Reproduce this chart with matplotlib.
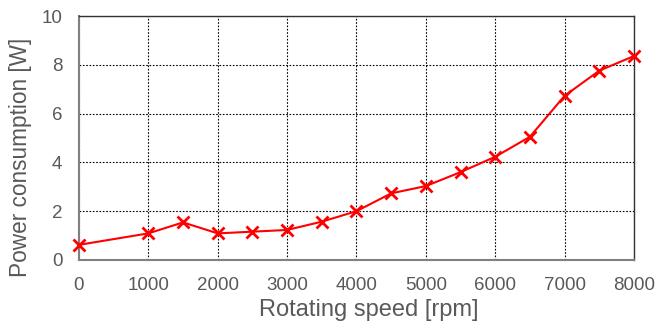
import matplotlib
matplotlib.use("Agg")
import matplotlib.pyplot as plt

speed = [0, 1000, 1500, 2000, 2500, 3000, 3500, 4000, 4500, 5000, 5500, 6000, 6500, 7000, 7500, 8000]
power = [0.62, 1.09, 1.54, 1.09, 1.16, 1.23, 1.57, 2.0, 2.73, 3.03, 3.6, 4.23, 5.05, 6.73, 7.76, 8.36]
xticks = [0, 1000, 2000, 3000, 4000, 5000, 6000, 7000, 8000]
yticks = [0, 2, 4, 6, 8, 10]

plt.rcParams['font.family'] = ['Liberation Sans', 'DejaVu Sans']
fig = plt.figure(figsize=(6.58, 3.27), dpi=100)
ax = fig.add_axes([0.120, 0.205, 0.8435, 0.746])
ax.plot(speed, power, color='#ff0000', marker='x', markersize=8, markeredgewidth=2, linewidth=1.5, zorder=3, clip_on=False)
ax.set_xlim(0, 8000)
ax.set_ylim(0, 10)
ax.set_xticks(xticks)
ax.set_yticks(yticks)
ax.grid(True, color='black', linestyle=(0, (1.5, 1.5)), linewidth=0.8)
grey = '#595959'
ax.tick_params(axis='x', length=0, labelsize=13.5, colors=grey, pad=12)
ax.tick_params(axis='y', length=0, labelsize=13.5, colors=grey, pad=12)
ax.set_xlabel('Rotating speed [rpm]', fontsize=17, color=grey)
ax.set_ylabel('Power consumption [W]', fontsize=16.3, color=grey)
ax.xaxis.set_label_coords(0.523, -0.160)
ax.yaxis.set_label_coords(-0.085, 0.422)
for s in ['top', 'right']:
    ax.spines[s].set_color('#333333')
    ax.spines[s].set_linewidth(1.0)
for s in ['left', 'bottom']:
    ax.spines[s].set_color('#808080')
    ax.spines[s].set_linewidth(1.5)
fig.savefig('out.png', dpi=100)
